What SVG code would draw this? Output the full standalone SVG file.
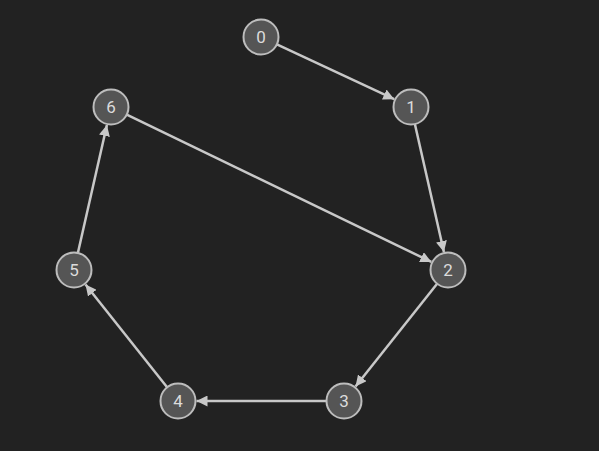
<svg xmlns="http://www.w3.org/2000/svg" width="599" height="451" viewBox="0 0 599 451">
<style>
.n circle{fill:#555555;stroke:#bdbdbd;stroke-width:2}
.n text{fill:#dcdcdc;font-family:Roboto,"Liberation Sans",sans-serif;font-size:17px;text-anchor:middle;dominant-baseline:central}
.e line{stroke:#c8c8c8;stroke-width:2.5}
</style>
<defs>
<marker id="a" viewBox="0 0 10 10" refX="10" refY="5" markerWidth="4.4" markerHeight="4.4" markerUnits="strokeWidth" orient="auto">
<path d="M0,0L10,5L0,10z" fill="#c8c8c8"/>
</marker>
</defs>
<rect width="599" height="451" fill="#222222"/>
<g id="edges" class="e">
<line x1="276.86" y1="44.4" x2="394.24" y2="99.18" marker-end="url(#a)" id="e0-1"/>
<line x1="414.87" y1="124.07" x2="443.9" y2="251.96" marker-end="url(#a)" id="e1-2"/>
<line x1="437.12" y1="283.71" x2="355.5" y2="386.51" marker-end="url(#a)" id="e2-3"/>
<line x1="326.5" y1="401" x2="196.5" y2="401" marker-end="url(#a)" id="e3-4"/>
<line x1="167.12" y1="387.29" x2="85.5" y2="284.49" marker-end="url(#a)" id="e4-5"/>
<line x1="77.87" y1="252.93" x2="106.9" y2="125.04" marker-end="url(#a)" id="e5-6"/>
<line x1="126.75" y1="114.62" x2="431.35" y2="261.94" marker-end="url(#a)" id="e6-2"/>
</g>
<g id="node0" class="n"><circle cx="261" cy="37" r="17.5"/><text x="261" y="37">0</text></g>
<g id="node1" class="n"><circle cx="411" cy="107" r="17.5"/><text x="411" y="107">1</text></g>
<g id="node2" class="n"><circle cx="448" cy="270" r="17.5"/><text x="448" y="270">2</text></g>
<g id="node3" class="n"><circle cx="344" cy="401" r="17.5"/><text x="344" y="401">3</text></g>
<g id="node4" class="n"><circle cx="178" cy="401" r="17.5"/><text x="178" y="401">4</text></g>
<g id="node5" class="n"><circle cx="74" cy="270" r="17.5"/><text x="74" y="270">5</text></g>
<g id="node6" class="n"><circle cx="111" cy="107" r="17.5"/><text x="111" y="107">6</text></g>
</svg>
